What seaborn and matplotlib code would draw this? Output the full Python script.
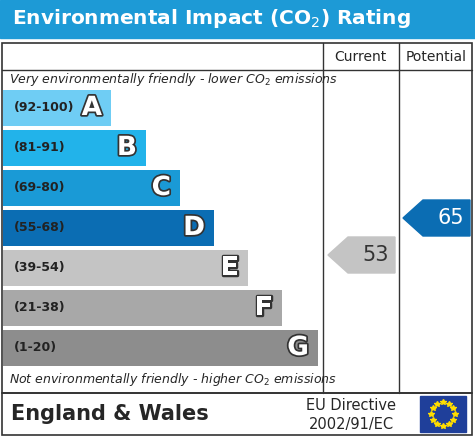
import matplotlib
matplotlib.use("Agg")
import matplotlib.pyplot as plt
import matplotlib.patheffects as pe
import seaborn as sns
import pandas as pd
from matplotlib.patches import Polygon, Rectangle
import numpy as np

ranges = ["(92-100)", "(81-91)", "(69-80)", "(55-68)", "(39-54)", "(21-38)", "(1-20)"]
letters = ["A", "B", "C", "D", "E", "F", "G"]
bar_end = [111, 146, 180, 214, 248, 282, 318]
colors = ["#6fcdf4", "#22b3ea", "#1a9ad6", "#0b6db3", "#c4c4c4", "#a8a8a8", "#8d8d8d"]
current = 53
potential = 65

sns.set_theme(style="white")
fig = plt.figure(figsize=(4.75, 4.37), dpi=100)
ax = fig.add_axes([0, 0, 1, 1])
ax.set_xlim(0, 475); ax.set_ylim(437, 0); ax.axis("off")

ax.add_patch(Rectangle((0, 0), 475, 38, color="#1d9ad6"))
ax.text(12, 19, "Environmental Impact (CO$_2$) Rating", color="white", fontsize=14.5,
        fontweight="bold", va="center", ha="left")
ax.add_patch(Rectangle((2, 43), 470, 350, fill=False, lw=1.2, ec="#333333"))
ax.add_patch(Rectangle((2, 393), 470, 42, fill=False, lw=1.2, ec="#333333"))
ax.plot([323, 323], [43, 393], color="#333333", lw=1)
ax.plot([399, 399], [43, 393], color="#333333", lw=1)
ax.plot([2, 472], [70, 70], color="#333333", lw=1)
ax.text(360, 57, "Current", ha="center", va="center", fontsize=10)
ax.text(436, 57, "Potential", ha="center", va="center", fontsize=10)
ax.text(9, 80, "Very environmentally friendly - lower CO$_2$ emissions", fontsize=9,
        style="italic", va="center")
ax.text(9, 379, "Not environmentally friendly - higher CO$_2$ emissions", fontsize=9,
        style="italic", va="center")
ax.text(11, 414, "England & Wales", fontsize=15, fontweight="bold", va="center")
ax.text(351, 405, "EU Directive", fontsize=10.5, ha="center", va="center")
ax.text(351, 424, "2002/91/EC", fontsize=10.5, ha="center", va="center")
ax.add_patch(Rectangle((420, 396), 46, 36, color="#1f3f9a"))
for t in np.linspace(0, 2*np.pi, 13)[:-1]:
    ax.plot(443 + 12*np.cos(t), 414 + 12*np.sin(t), marker="*", color="#ffdd00", ms=4)

bx = fig.add_axes([0, 1 - 368/437, 1, (368 - 88)/437])
df = pd.DataFrame({"range": ranges, "end": [e - 3 for e in bar_end]})
sns.barplot(data=df, x="end", y="range", hue="range", palette=colors, orient="h",
            width=0.9, saturation=1, ax=bx, legend=False)
bx.set_xlim(-3, 472)
bx.axis("off")
for p in bx.patches:
    p.set_edgecolor("none")
for i, (r, L, e) in enumerate(zip(ranges, letters, bar_end)):
    bx.text(11, i, r, va="center", fontsize=9, fontweight="bold", color="#222222")
    bx.text(e - 12, i, L, va="center", ha="right", fontsize=19, fontweight="bold",
            color="white", path_effects=[pe.withStroke(linewidth=2.5, foreground="#333333")])

def ypos(v):
    return 255 - (v - 53) * 37 / 12

def arrow(x0, x1, v, col):
    y = ypos(v)
    pts = [(x0, y), (x0 + 20, y - 18), (x1, y - 18), (x1, y + 18), (x0 + 20, y + 18)]
    ax.add_patch(Polygon(pts, closed=True, color=col))
    ax.text(x1 - 6, y, str(v), ha="right", va="center", fontsize=15,
            color="white" if col != "#c4c4c4" else "#333333")

arrow(328, 395, current, "#c4c4c4")
arrow(403, 470, potential, "#0b6db3")
fig.savefig("out.png", dpi=100)
